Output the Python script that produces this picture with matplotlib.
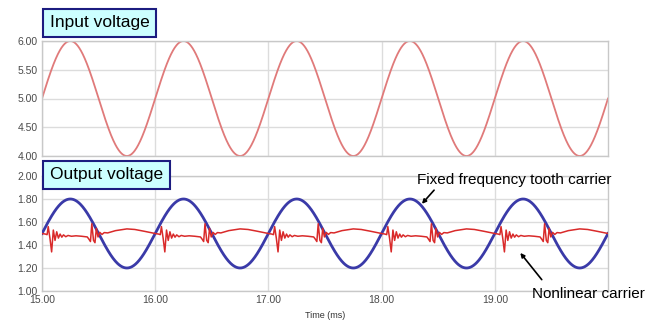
import numpy as np
import matplotlib
matplotlib.use("Agg")
import matplotlib.pyplot as plt

plt.rcParams["font.family"] = ["Liberation Sans", "DejaVu Sans"]

# ---- waveform parameters (time in ms) ----
t_start, t_end = 15.0, 20.0
carrier_period_ms = 1.0

input_offset_v = 5.0
input_amplitude_v = 1.0

fixed_carrier_offset_v = 1.5
fixed_carrier_amplitude_v = 0.3

# Nonlinear carrier: one period of the output, time relative to period start (ms)
nl_rel_time = [0.000, 0.030, 0.045, 0.055, 0.070, 0.085, 0.100, 0.115, 0.130,
               0.145, 0.160, 0.175, 0.190, 0.210, 0.230, 0.260, 0.300, 0.350,
               0.400, 0.415, 0.428, 0.440, 0.455, 0.468, 0.480, 0.495, 0.510,
               0.530, 0.550, 0.580, 0.650, 0.750, 0.820, 0.900, 1.000]
nl_value_v = [1.500, 1.495, 1.490, 1.560, 1.460, 1.340, 1.530, 1.440, 1.515,
              1.460, 1.495, 1.468, 1.488, 1.472, 1.483, 1.476, 1.480, 1.476,
              1.470, 1.450, 1.430, 1.585, 1.440, 1.420, 1.545, 1.470, 1.510,
              1.492, 1.508, 1.505, 1.525, 1.540, 1.535, 1.520, 1.500]

x_ticks = [15.0, 16.0, 17.0, 18.0, 19.0]
x_tick_labels = ["15.00", "16.00", "17.00", "18.00", "19.00"]
top_y_ticks = [4.0, 4.5, 5.0, 5.5, 6.0]
bottom_y_ticks = [1.0, 1.2, 1.4, 1.6, 1.8, 2.0]

# ---- build traces ----
t = np.linspace(t_start, t_end, 2001)
phase = 2 * np.pi * (t - t_start) / carrier_period_ms
input_v = input_offset_v + input_amplitude_v * np.sin(phase)
fixed_carrier_v = fixed_carrier_offset_v + fixed_carrier_amplitude_v * np.sin(phase)

n_periods = int(round((t_end - t_start) / carrier_period_ms))
nl_t, nl_v = [], []
for k in range(n_periods):
    base = t_start + k * carrier_period_ms
    rel = nl_rel_time if k == 0 else nl_rel_time[1:]
    vals = nl_value_v if k == 0 else nl_value_v[1:]
    nl_t.extend(base + r * carrier_period_ms for r in rel)
    nl_v.extend(vals)

# ---- figure ----
W, H = 662, 328
fig = plt.figure(figsize=(W / 100, H / 100), dpi=100)
fig.patch.set_facecolor("white")

def px_axes(left, top, right, bottom):
    return fig.add_axes([left / W, 1 - bottom / H, (right - left) / W, (bottom - top) / H])

ax_top = px_axes(42, 41, 608, 156)
ax_bot = px_axes(42, 176, 608, 291)

grid_col = "#dcdcdc"
frame_col = "#c8c8c8"
tick_col = "#4a4a4a"

for ax in (ax_top, ax_bot):
    ax.set_xlim(t_start, t_end)
    ax.set_xticks(x_ticks)
    ax.grid(True, color=grid_col, linewidth=1.0)
    ax.set_axisbelow(True)
    for s in ax.spines.values():
        s.set_color(frame_col)
        s.set_linewidth(1.0)
    ax.tick_params(length=0, labelsize=7.5, labelcolor=tick_col, pad=3)

ax_top.set_ylim(4.0, 6.0)
ax_top.set_yticks(top_y_ticks)
ax_top.set_yticklabels([f"{v:.2f}" for v in top_y_ticks])
ax_top.set_xticklabels([])
ax_top.plot(t, input_v, color="#e07a7a", linewidth=1.3)

ax_bot.set_ylim(1.0, 2.0)
ax_bot.set_yticks(bottom_y_ticks)
ax_bot.set_yticklabels([f"{v:.2f}" for v in bottom_y_ticks])
ax_bot.set_xticklabels(x_tick_labels)
ax_bot.plot(t, fixed_carrier_v, color="#3a3aa8", linewidth=2.0, zorder=3)
ax_bot.plot(nl_t, nl_v, color="#d92a2a", linewidth=1.1, zorder=4)

ax_bot.set_xlabel("Time (ms)", fontsize=6.5, color="#333333", labelpad=4)

# panel titles in boxes
box = dict(boxstyle="square,pad=0.38", facecolor="#ccffff", edgecolor="#1c1c80", linewidth=1.5)
fig.text(50 / W, 1 - 23 / H, "Input voltage", fontsize=12.5, va="center", ha="left",
         bbox=box, zorder=10)
fig.text(50 / W, 1 - 175 / H, "Output voltage", fontsize=12.5, va="center", ha="left",
         bbox=box, zorder=10)

# annotations
ax_bot.text(19.17, 1.965, "Fixed frequency tooth carrier", fontsize=11,
            ha="center", va="center", clip_on=False)
ax_bot.annotate("", xy=(18.34, 1.74), xytext=(18.48, 1.895),
                arrowprops=dict(arrowstyle="-|>", color="black", lw=1.2,
                                mutation_scale=6), annotation_clip=False)
ax_bot.text(19.83, 0.975, "Nonlinear carrier", fontsize=11,
            ha="center", va="center", clip_on=False)
ax_bot.annotate("", xy=(19.21, 1.35), xytext=(19.43, 1.08),
                arrowprops=dict(arrowstyle="-|>", color="black", lw=1.2,
                                mutation_scale=6), annotation_clip=False)

fig.savefig("out.png", dpi=100)
